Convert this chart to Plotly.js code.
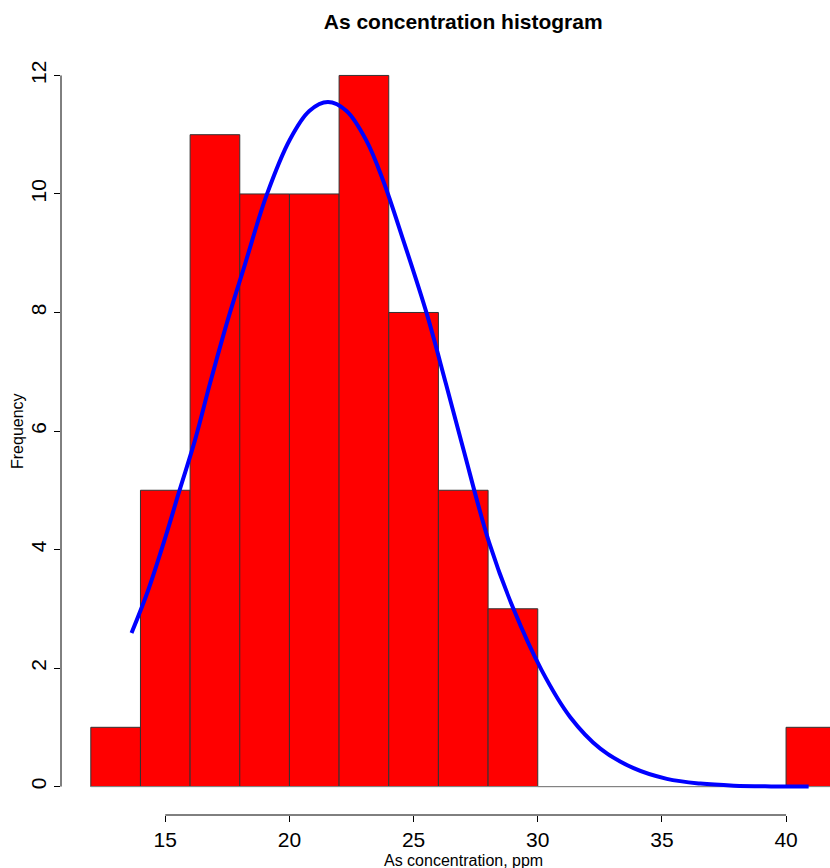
<!DOCTYPE html>
<html>
<head>
<meta charset="utf-8">
<script src="https://cdn.plot.ly/plotly-3.0.1.min.js"></script>
<style>html,body{margin:0;padding:0;background:#fff;}#chart{width:830px;height:868px;}</style>
</head>
<body>
<div id="chart"></div>
<script>
// Histogram bins (As concentration, ppm) and counts
const binEdges = [12, 14, 16, 18, 20, 22, 24, 26, 28, 30, 32, 34, 36, 38, 40, 42];
const counts   = [1, 5, 11, 10, 10, 12, 8, 5, 3, 0, 0, 0, 0, 0, 1];

// Fitted normal curve
const curveX = [13.64, 14.3, 15.0, 15.56, 16.2, 16.8, 17.5, 18.2, 19.08, 20.02, 20.8, 21.55, 22.3, 23.1, 23.78, 24.6, 25.53, 26.3, 27.0, 28.04, 29.0, 30.16, 31.31, 32.52, 33.86, 35.2, 36.55, 37.9, 39.4, 40.91];
const curveY = [2.59, 3.3, 4.2, 4.98, 5.85, 6.8, 7.85, 8.8, 9.98, 10.92, 11.4, 11.55, 11.4, 10.9, 10.22, 9.2, 7.98, 6.8, 5.7, 4.12, 3.02, 1.96, 1.17, 0.64, 0.31, 0.13, 0.05, 0.015, 0.003, 0.0];

const xTicks = [15, 20, 25, 30, 35, 40];
const yTicks = [0, 2, 4, 6, 8, 10, 12];

const titleText = 'As concentration histogram';
const xLabel = 'As concentration, ppm';
const yLabel = 'Frequency';

const centers = counts.map((c, i) => (binEdges[i] + binEdges[i + 1]) / 2);
const widths = counts.map((c, i) => binEdges[i + 1] - binEdges[i]);

const FONT = 'Liberation Sans, Arial, Helvetica, sans-serif';

const traces = [
  {
    type: 'scatter', mode: 'lines',
    x: [binEdges[0], binEdges[binEdges.length - 1]], y: [0, 0],
    line: {color: '#888888', width: 1},
    hoverinfo: 'skip', showlegend: false
  },
  {
    type: 'bar', x: centers, y: counts, width: widths,
    marker: {color: '#ff0000', line: {color: '#333333', width: 1}},
    showlegend: false
  },
  {
    type: 'scatter', mode: 'lines', x: curveX, y: curveY,
    line: {color: '#0000ff', width: 4, shape: 'spline', smoothing: 1.0},
    showlegend: false
  }
];

const layout = {
  width: 830, height: 868,
  margin: {l: 61, r: 0, t: 47, b: 53, autoexpand: false},
  paper_bgcolor: '#ffffff', plot_bgcolor: '#ffffff',
  font: {family: FONT, color: '#000000'},
  bargap: 0,
  showlegend: false,
  title: {
    text: titleText,
    font: {family: FONT, size: 21, weight: 'bold', color: '#000000'},
    xref: 'paper', x: 0.523, xanchor: 'center',
    yref: 'container', y: 0.9747, yanchor: 'middle'
  },
  xaxis: {
    range: [10.8, 41.77], autorange: false,
    tickmode: 'array', tickvals: xTicks, ticktext: xTicks.map(String),
    ticks: 'outside', ticklen: 6, tickwidth: 1, tickcolor: '#000000',
    tickfont: {family: FONT, size: 21, color: '#000000'},
    showgrid: false, zeroline: false, showline: false,
    automargin: false, fixedrange: true
  },
  yaxis: {
    range: [-0.48, 12.48], autorange: false,
    tickmode: 'array', tickvals: yTicks, ticktext: yTicks.map(String),
    ticks: 'outside', ticklen: 6, tickwidth: 1, tickcolor: '#000000',
    tickangle: -90,
    tickfont: {family: FONT, size: 21, color: '#000000'},
    showgrid: false, zeroline: false, showline: false,
    automargin: false, fixedrange: true
  },
  shapes: [
    {type: 'line', xref: 'x', yref: 'paper', x0: xTicks[0], x1: xTicks[xTicks.length - 1], y0: 0, y1: 0,
     line: {color: '#000000', width: 1}},
    {type: 'line', xref: 'paper', yref: 'y', x0: 0, x1: 0, y0: yTicks[0], y1: yTicks[yTicks.length - 1],
     line: {color: '#000000', width: 1}}
  ],
  annotations: [
    {text: xLabel, xref: 'paper', yref: 'paper', x: 0.523, y: -0.0586,
     xanchor: 'center', yanchor: 'middle', showarrow: false,
     font: {family: FONT, size: 16, color: '#000000'}},
    {text: yLabel, xref: 'paper', yref: 'paper', x: -0.0572, y: 0.5,
     xanchor: 'center', yanchor: 'middle', showarrow: false, textangle: -90,
     font: {family: FONT, size: 16, color: '#000000'}}
  ]
};

Plotly.newPlot('chart', traces, layout, {displayModeBar: false, staticPlot: true});
</script>
</body>
</html>
